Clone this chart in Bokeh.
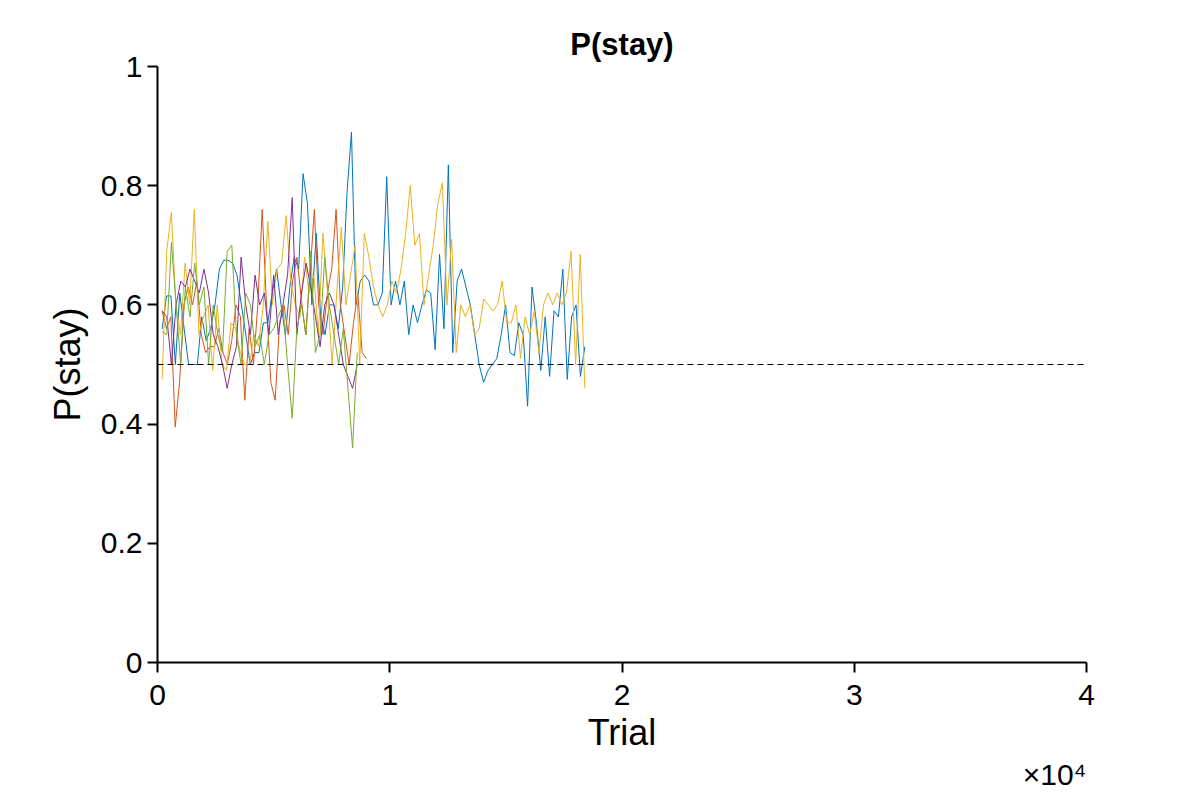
import numpy as np
from bokeh.plotting import figure
from bokeh.models import Range1d, Span, FixedTicker, Title
from bokeh.embed import file_html
from bokeh.resources import INLINE

# trial index in units of 1e4; each series ends at its last trial
blue_end = 1.84
blue = [0.56, 0.615, 0.615, 0.5, 0.62, 0.56, 0.5, 0.5, 0.5, 0.58, 0.54, 0.56, 0.6, 0.66, 0.675,
        0.675, 0.67, 0.65, 0.6, 0.55, 0.5, 0.52, 0.52, 0.57, 0.57, 0.62, 0.66, 0.6, 0.55, 0.63,
        0.68, 0.66, 0.82, 0.77, 0.6, 0.72, 0.58, 0.55, 0.6, 0.6, 0.56, 0.63, 0.79, 0.89, 0.6, 0.64,
        0.65, 0.64, 0.6, 0.6, 0.62, 0.815, 0.6, 0.64, 0.6, 0.64, 0.55, 0.6, 0.57, 0.6, 0.625,
        0.62, 0.525, 0.685, 0.56, 0.835, 0.52, 0.64, 0.66, 0.63, 0.6, 0.55, 0.5, 0.47, 0.49, 0.5,
        0.51, 0.55, 0.6, 0.52, 0.515, 0.57, 0.55, 0.43, 0.63, 0.57, 0.49, 0.58, 0.48, 0.59, 0.58,
        0.66, 0.475, 0.58, 0.6, 0.48, 0.53]
yellow_end = 1.84
yellow = [0.475, 0.69, 0.755, 0.6, 0.55, 0.67, 0.6, 0.76, 0.55, 0.58, 0.6, 0.49, 0.6, 0.5, 0.49,
          0.57, 0.56, 0.52, 0.5, 0.5, 0.55, 0.53, 0.6, 0.74, 0.6, 0.66, 0.67, 0.75, 0.64, 0.6,
          0.58, 0.68, 0.62, 0.65, 0.55, 0.72, 0.62, 0.5, 0.62, 0.73, 0.6, 0.65, 0.7, 0.5, 0.72,
          0.68, 0.63, 0.6, 0.58, 0.6, 0.64, 0.62, 0.66, 0.72, 0.8, 0.7, 0.72, 0.6, 0.65, 0.7,
          0.77, 0.805, 0.6, 0.71, 0.52, 0.6, 0.58, 0.6, 0.55, 0.56, 0.61, 0.6, 0.59, 0.6, 0.64,
          0.57, 0.57, 0.6, 0.51, 0.58, 0.55, 0.59, 0.52, 0.6, 0.62, 0.6, 0.62, 0.6, 0.62, 0.69,
          0.5, 0.685, 0.46]
red_end = 0.90
red = [0.59, 0.56, 0.58, 0.395, 0.47, 0.6, 0.63, 0.6, 0.64, 0.55, 0.52, 0.53, 0.53, 0.56, 0.52,
       0.5, 0.54, 0.6, 0.58, 0.44, 0.56, 0.5, 0.6, 0.76, 0.6, 0.47, 0.44, 0.57, 0.6, 0.55, 0.64,
       0.68, 0.61, 0.55, 0.65, 0.76, 0.6, 0.55, 0.62, 0.66, 0.76, 0.6, 0.55, 0.5, 0.57, 0.62,
       0.52, 0.51]
purple_end = 0.86
purple = [0.59, 0.58, 0.5, 0.6, 0.64, 0.63, 0.66, 0.64, 0.62, 0.66, 0.62, 0.55, 0.53, 0.5, 0.46,
          0.5, 0.53, 0.68, 0.6, 0.55, 0.65, 0.6, 0.62, 0.55, 0.65, 0.55, 0.6, 0.65, 0.78, 0.55,
          0.62, 0.67, 0.63, 0.58, 0.53, 0.6, 0.62, 0.6, 0.55, 0.5, 0.48, 0.46, 0.5]
green_end = 0.86
green = [0.555, 0.55, 0.705, 0.6, 0.5, 0.63, 0.58, 0.67, 0.6, 0.63, 0.5, 0.6, 0.55, 0.52, 0.69,
         0.7, 0.55, 0.5, 0.62, 0.6, 0.53, 0.55, 0.5, 0.55, 0.56, 0.58, 0.6, 0.5, 0.41, 0.56, 0.6,
         0.55, 0.69, 0.52, 0.55, 0.68, 0.6, 0.55, 0.5, 0.56, 0.46, 0.36, 0.52]

series = [
    (blue, blue_end, "#0072BD"),
    (red, red_end, "#D95319"),
    (yellow, yellow_end, "#EDB120"),
    (purple, purple_end, "#7E2F8E"),
    (green, green_end, "#77AC30"),
]

p = figure(width=1184, height=790, output_backend="svg", toolbar_location=None,
           x_range=Range1d(0, 4), y_range=Range1d(0, 1), title="P(stay)")
p.min_border_left = 157
p.min_border_right = 98
p.min_border_top = 66
p.min_border_bottom = 100
p.outline_line_color = None
p.grid.visible = False
p.title.align = "center"
p.title.text_font = "Liberation Sans"
p.title.text_font_size = "31px"
p.title.text_font_style = "bold"
p.title.text_color = "black"

for vals, end, col in series:
    xs = np.linspace(0.02, end, len(vals))
    p.line(xs, vals, line_color=col, line_width=1)

p.add_layout(Span(location=0.5, dimension="width", line_color="black",
                  line_dash="6 4", line_width=1))

for ax in (p.xaxis[0], p.yaxis[0]):
    ax.axis_line_width = 2
    ax.major_tick_line_width = 2
    ax.major_tick_out = 10
    ax.major_tick_in = 0
    ax.minor_tick_line_color = None
    ax.major_label_text_font = "Liberation Sans"
    ax.major_label_text_font_size = "30px"
    ax.major_label_text_color = "black"
    ax.axis_label_text_font = "Liberation Sans"
    ax.axis_label_text_font_size = "36px"
    ax.axis_label_text_font_style = "normal"
    ax.axis_label_text_color = "black"

p.xaxis.ticker = FixedTicker(ticks=[0, 1, 2, 3, 4])
p.yaxis.ticker = FixedTicker(ticks=[0, 0.2, 0.4, 0.6, 0.8, 1])
p.yaxis.major_label_overrides = {0: "0", 1: "1"}
p.xaxis.axis_label = "Trial"
p.yaxis.axis_label = "P(stay)"
p.xaxis.major_label_standoff = 12
p.xaxis.axis_label_standoff = 4
p.yaxis.axis_label_standoff = 10

p.add_layout(Title(text="×10⁴", align="right", text_font="Liberation Sans",
                   text_font_size="30px", text_font_style="normal",
                   text_color="black", standoff=0), "below")

open("out.html", "w").write(file_html(p, INLINE))
